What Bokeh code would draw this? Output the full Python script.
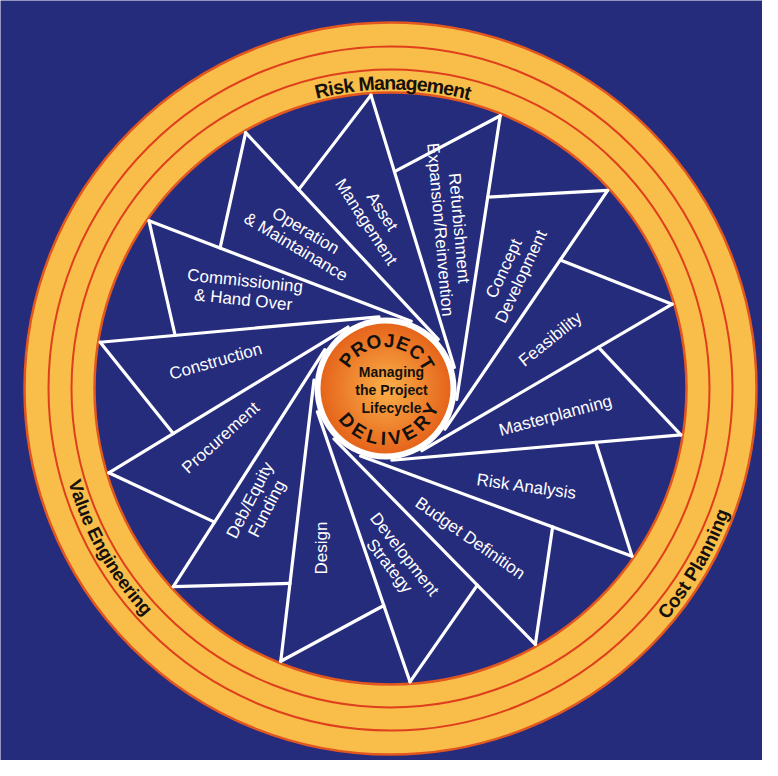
import math
from bokeh.plotting import figure
from bokeh.models import Range1d
from bokeh.core.properties import value
from bokeh.embed import file_html
from bokeh.resources import INLINE

# ---------------- data ----------------
blade_labels = [
    ["Asset", "Management"],
    ["Refurbishment", "Expansion/Reinvention"],
    ["Concept", "Development"],
    ["Feasibility"],
    ["Masterplanning"],
    ["Risk Analysis"],
    ["Budget Definition"],
    ["Development", "Strategy"],
    ["Design"],
    ["Deb/Equity", "Funding"],
    ["Procurement"],
    ["Construction"],
    ["Commissioning", "& Hand Over"],
    ["Operation", "& Maintainance"],
]
label_rotation_deg = [-57, -85, 65, 39, 15, -8, -35, -52, 90, 63, 42, 16, -6, -31]

ring_labels = ["Risk Management", "Value Engineering", "Cost Planning"]
hub_top = "PROJECT"
hub_bottom = "DELIVERY"
hub_lines = ["Managing", "the Project", "Lifecycle"]

# ---------------- layout / style ----------------
W, H = 762, 760
PAGE_OFF = 8
CX, CY = 398, 396            # ring centre in page pixels
NAVY = "#262c7c"
YELLOW = "#f9bd4a"
RED = "#de3f1d"
EDGE = "#e2561f"

R_OUT, R_RED1, R_RED2, R_IN = 366, 342, 319, 296
R_P, R_TAN, R_Q, R_LAB = 294, 72, 217, 172
HUB = (-5.0, 0.0)
R_WHITE, R_ORANGE = 71, 65
THETA0, STEP = 93.8, 360.0 / len(blade_labels)

bold_w = {' ': 278, 'R': 722, 'i': 278, 's': 556, 'k': 556, 'M': 833, 'a': 556,
          'n': 611, 'g': 611, 'e': 556, 'm': 889, 't': 333, 'C': 722, 'o': 611,
          'P': 667, 'l': 278, 'V': 667, 'u': 611, 'E': 667, 'r': 389, 'O': 778,
          'J': 556, 'T': 611, 'D': 722, 'L': 611, 'I': 278, 'Y': 667}

x0 = PAGE_OFF - CX
y1 = CY - PAGE_OFF
p = figure(width=W, height=H, output_backend="svg", toolbar_location=None,
           x_range=Range1d(x0, x0 + W), y_range=Range1d(y1 - H, y1),
           min_border=0, x_axis_location=None, y_axis_location=None)
p.grid.visible = False
p.outline_line_color = None
p.background_fill_color = NAVY
p.border_fill_color = NAVY

# ring
p.circle(x=[0], y=[0], radius=R_OUT, fill_color=YELLOW, line_color=EDGE, line_width=2.5)
p.circle(x=[0, 0], y=[0, 0], radius=[R_RED1, R_RED2], fill_color=None,
         line_color=RED, line_width=2)
p.circle(x=[0], y=[0], radius=R_IN, fill_color=NAVY, line_color=EDGE, line_width=2.5)

# blades
n = len(blade_labels)
thetas = [math.radians(THETA0 - k * STEP) for k in range(n)]
P = [(R_P * math.cos(t), R_P * math.sin(t)) for t in thetas]
tan_ang = []
for (px, py) in P:
    dx, dy = px - HUB[0], py - HUB[1]
    d = math.hypot(dx, dy)
    tan_ang.append(math.atan2(dy, dx) - math.acos(R_TAN / d))
T = [(HUB[0] + R_TAN * math.cos(a), HUB[1] + R_TAN * math.sin(a)) for a in tan_ang]
beta = math.acos(R_TAN / R_Q)
Q = []
for k in range(n):
    a = tan_ang[(k - 1) % n] + beta
    Q.append((HUB[0] + R_Q * math.cos(a), HUB[1] + R_Q * math.sin(a)))

sx0 = [pt[0] for pt in P] * 2
sy0 = [pt[1] for pt in P] * 2
sx1 = [pt[0] for pt in T] + [pt[0] for pt in Q]
sy1 = [pt[1] for pt in T] + [pt[1] for pt in Q]
p.segment(x0=sx0, y0=sy0, x1=sx1, y1=sy1, line_color="white", line_width=3.2,
          line_cap="round", line_join="round")

# blade labels
LS = 19
tx, ty, tt, ta = [], [], [], []
for k, lines in enumerate(blade_labels):
    cxk = HUB[0] + R_LAB * math.cos(thetas[k])
    cyk = HUB[1] + R_LAB * math.sin(thetas[k])
    rot = math.radians(label_rotation_deg[k])
    down = (math.sin(rot), -math.cos(rot))
    m = len(lines)
    for i, s in enumerate(lines):
        off = (i - (m - 1) / 2) * LS
        tx.append(cxk + off * down[0])
        ty.append(cyk + off * down[1])
        tt.append(s)
        ta.append(rot)
p.text(x=tx, y=ty, text=tt, angle=ta, text_color="white",
       text_font=value("Liberation Sans"), text_font_size="17px",
       text_align="center", text_baseline="middle")


def arc_chars(text, radius, mid_deg, size_px, spacing, clockwise, c=(0.0, 0.0)):
    ws = [bold_w.get(ch, 600) / 1000 * size_px for ch in text]
    total = sum(ws) + spacing * (len(text) - 1)
    span = total / radius
    xs, ys, angs = [], [], []
    cum = 0.0
    for ch, w in zip(text, ws):
        s = cum + w / 2
        if clockwise:
            phi = math.radians(mid_deg) + span / 2 - s / radius
            rot = phi - math.pi / 2
        else:
            phi = math.radians(mid_deg) - span / 2 + s / radius
            rot = phi + math.pi / 2
        xs.append(c[0] + radius * math.cos(phi))
        ys.append(c[1] + radius * math.sin(phi))
        angs.append(rot)
        cum += w + spacing
    return xs, ys, angs, list(text)


def draw_arc(text, radius, mid_deg, size_px, spacing, clockwise, font_px, c=(0.0, 0.0)):
    xs, ys, angs, chs = arc_chars(text, radius, mid_deg, size_px, spacing, clockwise, c)
    p.text(x=xs, y=ys, text=chs, angle=angs, text_color="#14110c",
           text_font=value("Liberation Sans"), text_font_style="bold",
           text_font_size=font_px, text_align="center", text_baseline="middle")


# ring labels
draw_arc(ring_labels[0], 306, 89.5, 18.5, 0, True, "19.5px")
draw_arc(ring_labels[1], 329, -150.5, 17.5, 0, False, "18.5px")
draw_arc(ring_labels[2], 354, -30.0, 18.3, 0, False, "19px")

# hub
p.circle(x=[HUB[0]], y=[HUB[1]], radius=R_WHITE, fill_color="white", line_color=None)
steps = 26
c_edge = (230, 102, 28)
c_mid = (249, 172, 72)
for i in range(steps):
    f = i / (steps - 1)
    r = R_ORANGE * (1 - 0.92 * f)
    col = tuple(int(round(c_edge[j] + (c_mid[j] - c_edge[j]) * f)) for j in range(3))
    p.circle(x=[HUB[0] + 2 * f], y=[HUB[1]], radius=r,
             fill_color="#%02x%02x%02x" % col, line_color=None)

draw_arc(hub_top, 48, 87.5, 19, 2.7, True, "19px", HUB)
draw_arc(hub_bottom, 50, -83.0, 19, 2.6, False, "19px", HUB)

p.text(x=[1, 1, 1], y=[17, -1, -19], text=hub_lines, text_color="#14110c",
       text_font=value("Liberation Sans"), text_font_style="bold",
       text_font_size="14px", text_align="center", text_baseline="middle")

open("out.html", "w").write(file_html(p, INLINE))
